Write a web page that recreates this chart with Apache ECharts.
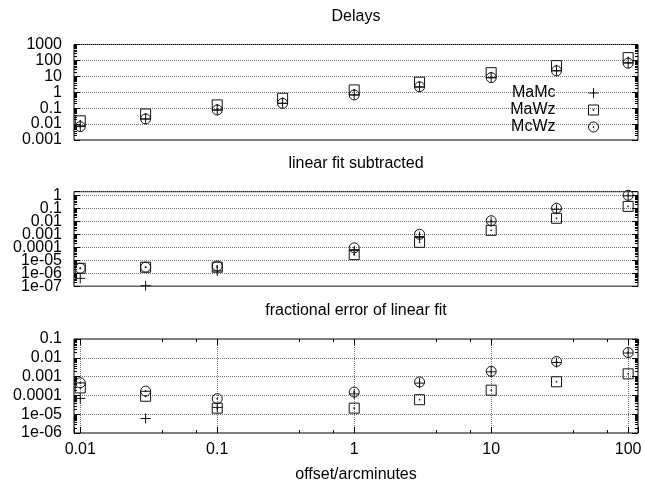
<!DOCTYPE html>
<html>
<head>
<meta charset="utf-8">
<title>Delays</title>
<script src="https://cdn.jsdelivr.net/npm/echarts@6/dist/echarts.min.js"></script>
<style>
html, body { margin: 0; padding: 0; background: #fff; }
#delays { width: 645px; height: 484px; }
</style>
</head>
<body>
<div id="delays"></div>
<script>
//offset of each measurement, arcminutes
var offsets = [0.01, 0.03, 0.1, 0.3, 1, 3, 10, 30, 100];
var seriesNames = ['MaMc', 'MaWz', 'McWz'];

//panel 1: delays
var delayMaMc = [0.007, 0.021, 0.075, 0.2, 0.68, 2.2, 8.2, 22, 68];
var delayMaWz = [0.016, 0.043, 0.16, 0.42, 1.4, 4.3, 17, 47, 150];
var delayMcWz = [0.0069, 0.021, 0.077, 0.2, 0.68, 2.2, 8.3, 22, 67];

//panel 2: linear fit subtracted (nothing plotted at 0.3)
var fitMaMc = [4e-7, 1.1e-7, 1.5e-6, null, 5.5e-5, 6.6e-4, 9e-3, 0.083, 0.9];
var fitMaWz = [2.4e-6, 2.9e-6, 2.9e-6, null, 2.7e-5, 2.4e-4, 2e-3, 0.017, 0.14];
var fitMcWz = [2.4e-6, 2.9e-6, 3.6e-6, null, 9e-5, 1e-3, 0.011, 0.1, 1.0];

//panel 3: fractional error of linear fit
var fracMaMc = [6.9e-5, 5.9e-6, 2.3e-5, null, 1.2e-4, 4.5e-4, 1.8e-3, 5.6e-3, 0.018];
var fracMaWz = [2.5e-4, 9e-5, 2.1e-5, null, 2.1e-5, 5.9e-5, 1.9e-4, 5.3e-4, 1.4e-3];
var fracMcWz = [4.7e-4, 1.7e-4, 6.7e-5, null, 1.5e-4, 5.2e-4, 1.9e-3, 6.4e-3, 0.019];

//tick labels, gnuplot style
var xTicks = ['0.01', '0.1', '1', '10', '100'];
var delayTicks = ['1000', '100', '10', '1', '0.1', '0.01', '0.001'];
var fitTicks = ['1', '0.1', '0.01', '0.001', '0.0001', '1e-05', '1e-06', '1e-07'];
var fracTicks = ['0.1', '0.01', '0.001', '0.0001', '1e-05', '1e-06'];

var chart = echarts.init(document.getElementById('delays'), null, { renderer: 'canvas' });

var font = 'Liberation Sans, Arial, Helvetica, sans-serif';
var gridColor = '#777';

//point symbols: plus, box with dot, circle with dot
var symbols = [
    'path://M0,5L10,5M5,0L5,10',
    'path://M0,0L10,0L10,10L0,10Z M4.6,4.6L5.4,4.6L5.4,5.4L4.6,5.4Z',
    'path://M0,5A5,5,0,1,1,10,5A5,5,0,1,1,0,5Z M4.6,4.6L5.4,4.6L5.4,5.4L4.6,5.4Z'
];
var markStyle = { color: 'rgba(0,0,0,0)', borderColor: '#111', borderWidth: 1, opacity: 1 };

//only label the decades listed, nothing at the range ends
function tickFormatter(labels) {
    return function (v) {
        for (var i = 0; i < labels.length; i++) {
            if (Math.abs(Math.log10(v) - Math.log10(Number(labels[i]))) < 0.01) {
                return labels[i];
            }
        }
        return '';
    };
}

function pairs(values) {
    var out = [];
    for (var i = 0; i < offsets.length; i++) {
        if (values[i] != null) {
            out.push([offsets[i], values[i]]);
        }
    }
    return out;
}

var xMin = 0.009, xMax = 118;
var panels = [
    { top: 44.5, height: 95.5, yMin: 0.001, yMax: 1000, ticks: delayTicks, data: [delayMaMc, delayMaWz, delayMcWz] },
    { top: 191.7, height: 94.5, yMin: 1e-7, yMax: 1.89, ticks: fitTicks, data: [fitMaMc, fitMaWz, fitMcWz] },
    { top: 339, height: 94.5, yMin: 1e-6, yMax: 0.1, ticks: fracTicks, data: [fracMaMc, fracMaWz, fracMcWz] }
];

var yLabelStyle = { margin: 12, fontSize: 16, color: '#000', fontFamily: font };

var grids = [], xAxes = [], yAxes = [], series = [];
for (var p = 0; p < panels.length; p++) {
    var pan = panels[p];
    var last = p === panels.length - 1;
    grids.push({
        left: 74, right: 7, top: pan.top, height: pan.height,
        show: true, borderColor: '#000', borderWidth: 1, backgroundColor: 'transparent'
    });
    xAxes.push({
        type: 'log', gridIndex: p, min: xMin, max: xMax, position: 'bottom',
        axisLine: { show: false },
        axisTick: { show: last, inside: true, length: 6, lineStyle: { color: '#000' } },
        minorTick: { show: last, splitNumber: 3, length: 3, lineStyle: { color: '#000' } },
        splitLine: { show: last, lineStyle: { type: 'dotted', color: gridColor } },
        axisLabel: {
            show: last, margin: 9, fontSize: 16, color: '#000', fontFamily: font,
            showMinLabel: true, showMaxLabel: true, formatter: tickFormatter(xTicks)
        },
        name: last ? 'offset/arcminutes' : '',
        nameLocation: 'middle', nameGap: 34,
        nameTextStyle: { fontSize: 16, color: '#000', fontFamily: font }
    });
    //all labels but the lowest one (ECharts would drop a neighbour otherwise)
    yAxes.push({
        type: 'log', gridIndex: p, min: pan.yMin, max: pan.yMax, position: 'left',
        axisLine: { show: false },
        axisTick: { inside: true, length: 6, lineStyle: { color: '#000' } },
        minorTick: { show: true, splitNumber: 10, length: 3, lineStyle: { color: '#000' } },
        splitLine: { show: true, lineStyle: { type: 'dotted', color: gridColor } },
        axisLabel: echarts.util.extend({
            showMinLabel: false, showMaxLabel: true,
            formatter: tickFormatter(pan.ticks.slice(0, -1))
        }, yLabelStyle)
    });
    for (var s = 0; s < 3; s++) {
        series.push({
            name: seriesNames[s],
            type: 'scatter',
            xAxisIndex: p,
            yAxisIndex: p,
            symbol: symbols[s],
            symbolSize: 10,
            itemStyle: markStyle,
            emphasis: { disabled: true },
            data: pairs(pan.data[s])
        });
    }
}

//mirror ticks on the right of every panel
for (var r = 0; r < panels.length; r++) {
    yAxes.push({
        type: 'log', gridIndex: r, min: panels[r].yMin, max: panels[r].yMax, position: 'right',
        axisLine: { show: false },
        axisTick: { inside: true, length: 6, lineStyle: { color: '#000' } },
        minorTick: { show: true, splitNumber: 10, length: 3, lineStyle: { color: '#000' } },
        splitLine: { show: false },
        axisLabel: { show: false }
    });
}
//the lowest label of each panel on its own axis
for (var b = 0; b < panels.length; b++) {
    yAxes.push({
        type: 'log', gridIndex: b, min: panels[b].yMin, max: panels[b].yMax, position: 'left',
        axisLine: { show: false },
        axisTick: { show: false },
        splitLine: { show: false },
        axisLabel: echarts.util.extend({
            showMinLabel: true, showMaxLabel: false,
            formatter: tickFormatter(panels[b].ticks.slice(-1))
        }, yLabelStyle)
    });
}
//mirror ticks on top of the bottom panel
xAxes.push({
    type: 'log', gridIndex: 2, min: xMin, max: xMax, position: 'top',
    axisLine: { show: false },
    axisTick: { inside: true, length: 6, lineStyle: { color: '#000' } },
    minorTick: { show: true, splitNumber: 3, length: 3, lineStyle: { color: '#000' } },
    splitLine: { show: false },
    axisLabel: { show: false }
});

var titleStyle = { fontSize: 16, fontWeight: 'normal', color: '#000', fontFamily: font };

var option = {
    animation: false,
    backgroundColor: '#fff',
    textStyle: { fontFamily: font },
    title: [
        { text: 'Delays', left: 351, top: 4, textAlign: 'center', textStyle: titleStyle },
        { text: 'linear fit subtracted', left: 351, top: 151, textAlign: 'center', textStyle: titleStyle },
        { text: 'fractional error of linear fit', left: 351, top: 298, textAlign: 'center', textStyle: titleStyle }
    ],
    legend: {
        data: seriesNames,
        orient: 'vertical',
        align: 'right',
        right: 41,
        top: 80,
        itemWidth: 66,
        itemHeight: 10,
        itemGap: 1,
        selectedMode: false,
        itemStyle: markStyle,
        textStyle: { fontSize: 16, lineHeight: 16, color: '#000', fontFamily: font }
    },
    grid: grids,
    xAxis: xAxes,
    yAxis: yAxes,
    series: series
};

chart.setOption(option);
</script>
</body>
</html>
